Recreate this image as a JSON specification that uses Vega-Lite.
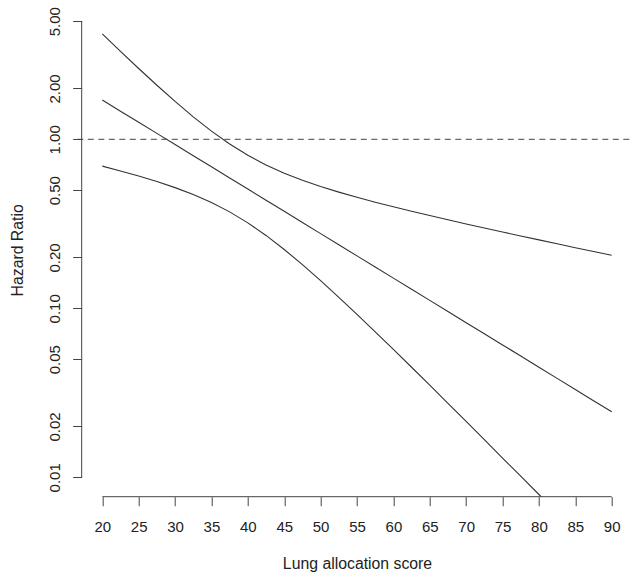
{
  "$schema": "https://vega.github.io/schema/vega-lite/v6.json",
  "width": 556.6,
  "height": 493.7,
  "autosize": {"type": "none"},
  "padding": {"left": 72.7, "top": 3, "right": 8.7, "bottom": 81.3},
  "background": "white",
  "config": {
    "view": {"stroke": null},
    "font": "Liberation Sans",
    "axis": {
      "domain": false,
      "grid": false,
      "tickColor": "#444",
      "tickWidth": 1,
      "labelFont": "Liberation Sans",
      "labelFontSize": 15,
      "labelColor": "#222",
      "titleFont": "Liberation Sans",
      "titleFontSize": 15.8,
      "titleFontWeight": "normal",
      "titleColor": "#222"
    }
  },
  "datasets": {
    "curves": [
      {"series": "upper", "score": 20, "hr": 4.204},
      {"series": "upper", "score": 22.5, "hr": 3.314},
      {"series": "upper", "score": 25, "hr": 2.623},
      {"series": "upper", "score": 27.5, "hr": 2.088},
      {"series": "upper", "score": 30, "hr": 1.675},
      {"series": "upper", "score": 32.5, "hr": 1.358},
      {"series": "upper", "score": 35, "hr": 1.118},
      {"series": "upper", "score": 37.5, "hr": 0.938},
      {"series": "upper", "score": 40, "hr": 0.804},
      {"series": "upper", "score": 42.5, "hr": 0.705},
      {"series": "upper", "score": 45, "hr": 0.63},
      {"series": "upper", "score": 47.5, "hr": 0.572},
      {"series": "upper", "score": 50, "hr": 0.526},
      {"series": "upper", "score": 52.5, "hr": 0.487},
      {"series": "upper", "score": 55, "hr": 0.4535},
      {"series": "upper", "score": 57.5, "hr": 0.4245},
      {"series": "upper", "score": 60, "hr": 0.3986},
      {"series": "upper", "score": 62.5, "hr": 0.3751},
      {"series": "upper", "score": 65, "hr": 0.3537},
      {"series": "upper", "score": 67.5, "hr": 0.334},
      {"series": "upper", "score": 70, "hr": 0.3157},
      {"series": "upper", "score": 72.5, "hr": 0.2987},
      {"series": "upper", "score": 75, "hr": 0.2827},
      {"series": "upper", "score": 77.5, "hr": 0.268},
      {"series": "upper", "score": 80, "hr": 0.254},
      {"series": "upper", "score": 82.5, "hr": 0.2408},
      {"series": "upper", "score": 85, "hr": 0.2284},
      {"series": "upper", "score": 87.5, "hr": 0.2168},
      {"series": "upper", "score": 90, "hr": 0.2058},
      {"series": "estimate", "score": 20, "hr": 1.708},
      {"series": "estimate", "score": 22.5, "hr": 1.467},
      {"series": "estimate", "score": 25, "hr": 1.261},
      {"series": "estimate", "score": 27.5, "hr": 1.084},
      {"series": "estimate", "score": 30, "hr": 0.931},
      {"series": "estimate", "score": 32.5, "hr": 0.8},
      {"series": "estimate", "score": 35, "hr": 0.6875},
      {"series": "estimate", "score": 37.5, "hr": 0.5907},
      {"series": "estimate", "score": 40, "hr": 0.5076},
      {"series": "estimate", "score": 42.5, "hr": 0.4361},
      {"series": "estimate", "score": 45, "hr": 0.3748},
      {"series": "estimate", "score": 47.5, "hr": 0.322},
      {"series": "estimate", "score": 50, "hr": 0.2767},
      {"series": "estimate", "score": 52.5, "hr": 0.2377},
      {"series": "estimate", "score": 55, "hr": 0.2043},
      {"series": "estimate", "score": 57.5, "hr": 0.1755},
      {"series": "estimate", "score": 60, "hr": 0.1509},
      {"series": "estimate", "score": 62.5, "hr": 0.1296},
      {"series": "estimate", "score": 65, "hr": 0.1114},
      {"series": "estimate", "score": 67.5, "hr": 0.0957},
      {"series": "estimate", "score": 70, "hr": 0.0822},
      {"series": "estimate", "score": 72.5, "hr": 0.0707},
      {"series": "estimate", "score": 75, "hr": 0.0607},
      {"series": "estimate", "score": 77.5, "hr": 0.0522},
      {"series": "estimate", "score": 80, "hr": 0.0448},
      {"series": "estimate", "score": 82.5, "hr": 0.0385},
      {"series": "estimate", "score": 85, "hr": 0.0331},
      {"series": "estimate", "score": 87.5, "hr": 0.0284},
      {"series": "estimate", "score": 90, "hr": 0.0244},
      {"series": "lower", "score": 20, "hr": 0.694},
      {"series": "lower", "score": 22.5, "hr": 0.65},
      {"series": "lower", "score": 25, "hr": 0.6065},
      {"series": "lower", "score": 27.5, "hr": 0.5626},
      {"series": "lower", "score": 30, "hr": 0.5176},
      {"series": "lower", "score": 32.5, "hr": 0.4712},
      {"series": "lower", "score": 35, "hr": 0.4227},
      {"series": "lower", "score": 37.5, "hr": 0.3721},
      {"series": "lower", "score": 40, "hr": 0.3204},
      {"series": "lower", "score": 42.5, "hr": 0.2699},
      {"series": "lower", "score": 45, "hr": 0.2229},
      {"series": "lower", "score": 47.5, "hr": 0.1813},
      {"series": "lower", "score": 50, "hr": 0.1457},
      {"series": "lower", "score": 52.5, "hr": 0.1161},
      {"series": "lower", "score": 55, "hr": 0.092},
      {"series": "lower", "score": 57.5, "hr": 0.0726},
      {"series": "lower", "score": 60, "hr": 0.0571},
      {"series": "lower", "score": 62.5, "hr": 0.0448},
      {"series": "lower", "score": 65, "hr": 0.0351},
      {"series": "lower", "score": 67.5, "hr": 0.0274},
      {"series": "lower", "score": 70, "hr": 0.0214},
      {"series": "lower", "score": 72.5, "hr": 0.0167},
      {"series": "lower", "score": 75, "hr": 0.013},
      {"series": "lower", "score": 77.5, "hr": 0.01016},
      {"series": "lower", "score": 80, "hr": 0.00791},
      {"series": "lower", "score": 82.5, "hr": 0.00616}
    ],
    "one": [{}]
  },
  "layer": [
    {
      "data": {"name": "curves"},
      "mark": {"type": "line", "clip": true, "color": "#333", "strokeWidth": 1.1},
      "encoding": {
        "x": {
          "field": "score",
          "type": "quantitative",
          "scale": {"domain": [15.932, 92.419], "nice": false, "zero": false},
          "axis": {
            "title": "Lung allocation score",
            "values": [20, 25, 30, 35, 40, 45, 50, 55, 60, 65, 70, 75, 80, 85, 90],
            "tickSize": 9,
            "labelPadding": 25.6,
            "labelBaseline": "alphabetic",
            "labelAlign": "center",
            "labelFlush": false,
            "labelOverlap": false,
            "titleX": 284.3,
            "titleY": 71.6,
            "titleBaseline": "alphabetic",
            "titleAlign": "center"
          }
        },
        "y": {
          "field": "hr",
          "type": "quantitative",
          "scale": {"type": "log", "domain": [0.007677, 6.405], "nice": false},
          "axis": {
            "title": "Hazard Ratio",
            "values": [0.01, 0.02, 0.05, 0.1, 0.2, 0.5, 1, 2, 5],
            "format": ".2f",
            "offset": -9,
            "tickSize": 9,
            "labelAngle": 270,
            "labelAlign": "center",
            "labelBaseline": "alphabetic",
            "labelPadding": 13,
            "labelFlush": false,
            "labelOverlap": false,
            "titleAngle": 270,
            "titleX": -58.7,
            "titleBaseline": "alphabetic",
            "titleAlign": "center"
          }
        },
        "detail": {"field": "series", "type": "nominal"},
        "order": {"field": "score", "type": "quantitative"}
      }
    },
    {
      "data": {"name": "one"},
      "mark": {"type": "rule", "color": "#444", "strokeWidth": 1, "strokeDash": [6, 4.5]},
      "encoding": {
        "y": {
          "datum": 1,
          "type": "quantitative",
          "axis": {
            "title": "Hazard Ratio",
            "values": [0.01, 0.02, 0.05, 0.1, 0.2, 0.5, 1, 2, 5],
            "format": ".2f",
            "offset": -9,
            "tickSize": 9,
            "labelAngle": 270,
            "labelAlign": "center",
            "labelBaseline": "alphabetic",
            "labelPadding": 13,
            "labelFlush": false,
            "labelOverlap": false,
            "titleAngle": 270,
            "titleX": -58.7,
            "titleBaseline": "alphabetic",
            "titleAlign": "center"
          }
        }
      }
    },
    {
      "data": {"name": "one"},
      "mark": {"type": "rule", "color": "#444", "strokeWidth": 1},
      "encoding": {
        "x": {
          "datum": 17.167,
          "type": "quantitative",
          "axis": {
            "title": "Lung allocation score",
            "values": [20, 25, 30, 35, 40, 45, 50, 55, 60, 65, 70, 75, 80, 85, 90],
            "tickSize": 9,
            "labelPadding": 25.6,
            "labelBaseline": "alphabetic",
            "labelAlign": "center",
            "labelFlush": false,
            "labelOverlap": false,
            "titleX": 284.3,
            "titleY": 71.6,
            "titleBaseline": "alphabetic",
            "titleAlign": "center"
          }
        },
        "y": {
          "datum": 0.01,
          "type": "quantitative",
          "axis": {
            "title": "Hazard Ratio",
            "values": [0.01, 0.02, 0.05, 0.1, 0.2, 0.5, 1, 2, 5],
            "format": ".2f",
            "offset": -9,
            "tickSize": 9,
            "labelAngle": 270,
            "labelAlign": "center",
            "labelBaseline": "alphabetic",
            "labelPadding": 13,
            "labelFlush": false,
            "labelOverlap": false,
            "titleAngle": 270,
            "titleX": -58.7,
            "titleBaseline": "alphabetic",
            "titleAlign": "center"
          }
        },
        "y2": {"datum": 5}
      }
    },
    {
      "data": {"name": "one"},
      "mark": {"type": "rule", "color": "#444", "strokeWidth": 1},
      "encoding": {
        "y": {
          "datum": 0.007677,
          "type": "quantitative",
          "axis": {
            "title": "Hazard Ratio",
            "values": [0.01, 0.02, 0.05, 0.1, 0.2, 0.5, 1, 2, 5],
            "format": ".2f",
            "offset": -9,
            "tickSize": 9,
            "labelAngle": 270,
            "labelAlign": "center",
            "labelBaseline": "alphabetic",
            "labelPadding": 13,
            "labelFlush": false,
            "labelOverlap": false,
            "titleAngle": 270,
            "titleX": -58.7,
            "titleBaseline": "alphabetic",
            "titleAlign": "center"
          }
        },
        "x": {
          "datum": 20,
          "type": "quantitative",
          "axis": {
            "title": "Lung allocation score",
            "values": [20, 25, 30, 35, 40, 45, 50, 55, 60, 65, 70, 75, 80, 85, 90],
            "tickSize": 9,
            "labelPadding": 25.6,
            "labelBaseline": "alphabetic",
            "labelAlign": "center",
            "labelFlush": false,
            "labelOverlap": false,
            "titleX": 284.3,
            "titleY": 71.6,
            "titleBaseline": "alphabetic",
            "titleAlign": "center"
          }
        },
        "x2": {"datum": 90}
      }
    }
  ]
}
